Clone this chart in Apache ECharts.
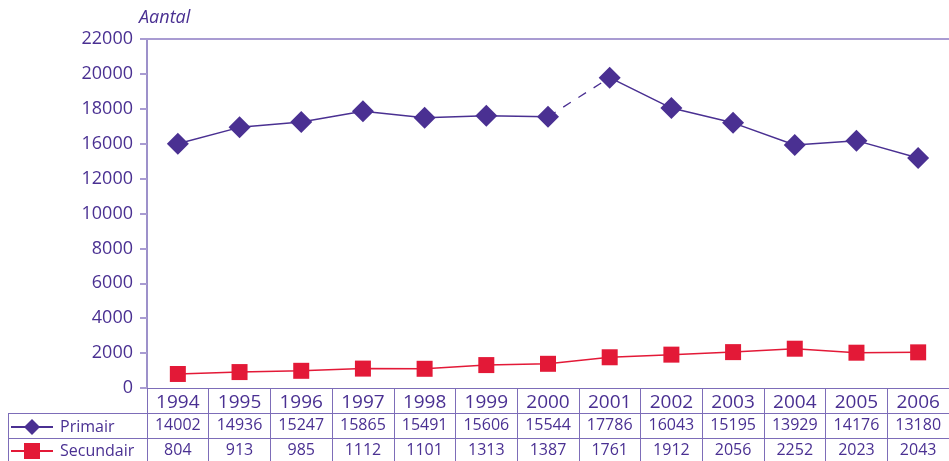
<!DOCTYPE html>
<html>
<head>
<meta charset="utf-8">
<script src="https://cdn.jsdelivr.net/npm/echarts@6/dist/echarts.min.js"></script>
<style>html,body{margin:0;padding:0;background:#fff}#c{width:949px;height:461px}</style>
</head>
<body>
<div id="c"></div>
<script>
var years = ['1994','1995','1996','1997','1998','1999','2000','2001','2002','2003','2004','2005','2006'];
var primair = [14002,14936,15247,15865,15491,15606,15544,17786,16043,15195,13929,14176,13180];
var secundair = [804,913,985,1112,1101,1313,1387,1761,1912,2056,2252,2023,2043];
var yTickLabels = ['0','2000','4000','6000','8000','10000','12000','16000','18000','20000','22000'];
var dashedFrom = 6, dashedTo = 7; // segment 2000 -> 2001 drawn dashed

var PURPLE = '#4a3092';
var RED = '#e31937';
var LINE = '#7d6db8';
var LIGHT = '#a99cd2';
var FONT = 'Open Sans';

function part(arr, from, to){ return arr.map(function(v,i){ return (i>=from && i<=to) ? v : null; }); }

var chart = echarts.init(document.getElementById('c'), null, {renderer:'canvas'});
var gridTop = 39, gridBottom = 73, gridLeft = 147;

function legendFor(name, top){
  return {
    orient:'horizontal', left:10, top:top, padding:0, itemWidth:42, itemHeight:20,
    data:[name],
    textStyle:{color:PURPLE, fontSize:16, fontFamily:FONT, padding:[0,0,0,2]},
    selectedMode:false
  };
}

chart.setOption({
  animation:false,
  textStyle:{fontFamily:FONT},
  grid:{left:gridLeft, right:0, top:gridTop, bottom:gridBottom},
  legend:[legendFor('Primair', 419), legendFor('Secundair', 443)],
  graphic:[
    {type:'line', shape:{x1:8,y1:413.5,x2:gridLeft,y2:413.5}, style:{stroke:LINE,lineWidth:1}},
    {type:'line', shape:{x1:8,y1:438.5,x2:gridLeft,y2:438.5}, style:{stroke:LINE,lineWidth:1}},
    {type:'line', shape:{x1:8.5,y1:413,x2:8.5,y2:461}, style:{stroke:LINE,lineWidth:1}}
  ],
  xAxis:[
    {type:'category', data:years, position:'bottom', boundaryGap:true,
     axisLine:{lineStyle:{color:LINE,width:1}},
     axisTick:{show:true, length:73, interval:0, lineStyle:{color:LINE}},
     axisLabel:{color:PURPLE, fontSize:19, margin:5, fontFamily:FONT}},
    {type:'category', data:primair.map(String), position:'bottom', offset:25, boundaryGap:true,
     axisLine:{lineStyle:{color:LINE,width:1}}, axisTick:{show:false},
     axisLabel:{color:PURPLE, fontSize:16, margin:4, fontFamily:FONT, interval:0}},
    {type:'category', data:secundair.map(String), position:'bottom', offset:50, boundaryGap:true,
     axisLine:{lineStyle:{color:LINE,width:1}}, axisTick:{show:false},
     axisLabel:{color:PURPLE, fontSize:16, margin:4, fontFamily:FONT, interval:0}},
    {type:'category', data:years, position:'top', boundaryGap:true,
     axisLine:{lineStyle:{color:LIGHT,width:2}}, axisTick:{show:false}, axisLabel:{show:false}}
  ],
  yAxis:{
    type:'value', min:0, max:20000, interval:2000,
    name:'Aantal', nameLocation:'end', nameGap:12,
    nameTextStyle:{color:PURPLE, fontSize:18, fontStyle:'italic', align:'left', padding:[0,0,0,-8], fontFamily:FONT},
    axisLine:{show:true, lineStyle:{color:LINE,width:1.5}},
    axisTick:{show:true, length:7, lineStyle:{color:LIGHT,width:2}},
    splitLine:{show:false},
    axisLabel:{color:PURPLE, fontSize:18, margin:14, fontFamily:FONT,
      formatter:function(v){ return yTickLabels[Math.round(v/2000)]; }}
  },
  series:[
    {name:'Primair', type:'line', data:part(primair,0,dashedFrom), symbol:'diamond', symbolSize:22,
     itemStyle:{color:PURPLE}, lineStyle:{color:PURPLE,width:1.5}, connectNulls:false, z:3},
    {name:'Primair', type:'line', data:part(primair,dashedTo,primair.length-1), symbol:'diamond', symbolSize:22,
     itemStyle:{color:PURPLE}, lineStyle:{color:PURPLE,width:1.5}, connectNulls:false, z:3},
    {name:'Primair', type:'line', data:part(primair,dashedFrom,dashedTo), symbol:'none',
     itemStyle:{color:PURPLE}, lineStyle:{color:PURPLE,width:1.3,type:[9,9]}, z:2},
    {name:'Secundair', type:'line', data:secundair, symbol:'rect', symbolSize:16,
     itemStyle:{color:RED}, lineStyle:{color:RED,width:1.5}, z:3}
  ]
});
</script>
</body>
</html>
